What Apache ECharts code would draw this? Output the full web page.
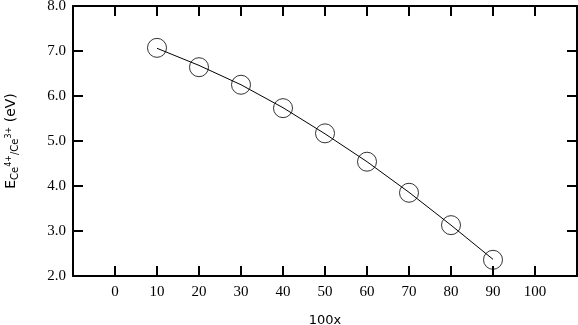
<!DOCTYPE html>
<html>
<head>
<meta charset="utf-8">
<script src="https://cdn.jsdelivr.net/npm/echarts@6/dist/echarts.min.js"></script>
<style>html,body{margin:0;padding:0;background:#fff}#c{width:578px;height:325px}</style>
</head>
<body>
<div id="c"></div>
<script>
var xVals = [10, 20, 30, 40, 50, 60, 70, 80, 90];
var pointVals = [7.07, 6.64, 6.25, 5.73, 5.17, 4.54, 3.85, 3.13, 2.36];
var fitVals = [7.06, 6.68, 6.25, 5.74, 5.16, 4.54, 3.86, 3.13, 2.37];
var xTicks = [0, 10, 20, 30, 40, 50, 60, 70, 80, 90, 100];
var yTicks = [2.0, 3.0, 4.0, 5.0, 6.0, 7.0, 8.0];

var chart = echarts.init(document.getElementById('c'), null, {renderer: 'canvas'});
var serif = 'Liberation Serif';
var axisLine = {show: true, onZero: false, lineStyle: {color: '#000', width: 2}};
var axisTick = {show: true, inside: true, length: 10, lineStyle: {color: '#000', width: 2}};

function pairs(vals) { return xVals.map(function (x, i) { return [x, vals[i]]; }); }

chart.setOption({
  animation: false,
  backgroundColor: '#fff',
  grid: {left: 73, right: 1, top: 6, bottom: 49, containLabel: false, outerBoundsMode: 'none'},
  xAxis: [{
    type: 'value', min: -10, max: 110, interval: 10, position: 'bottom',
    axisLine: axisLine, axisTick: axisTick, splitLine: {show: false},
    axisLabel: {
      margin: 9, color: '#000', fontFamily: serif, fontSize: 15,
      formatter: function (v) { return xTicks.indexOf(v) >= 0 ? String(v) : ''; }
    },
    name: '100x', nameLocation: 'middle', nameGap: 38,
    nameTextStyle: {color: '#000', fontFamily: 'DejaVu Sans', fontSize: 13}
  }, {
    type: 'value', min: -10, max: 110, interval: 10, position: 'top',
    axisLine: axisLine, axisTick: axisTick, axisLabel: {show: false}, splitLine: {show: false}
  }],
  yAxis: [{
    type: 'value', min: 2, max: 8, interval: 1, position: 'left',
    axisLine: axisLine, axisTick: axisTick, splitLine: {show: false},
    axisLabel: {
      margin: 7, color: '#000', fontFamily: serif, fontSize: 15,
      formatter: function (v) { return yTicks.indexOf(v) >= 0 ? v.toFixed(1) : ''; }
    },
    name: '{e|E}{s|Ce}{p|4+}{s|/Ce}{p|3+}{e| (eV)}',
    nameLocation: 'middle', nameGap: 53, nameRotate: 90,
    nameTextStyle: {
      color: '#000', fontFamily: 'DejaVu Sans', fontSize: 14,
      rich: {
        e: {fontFamily: 'DejaVu Sans', fontSize: 14, color: '#000'},
        s: {fontFamily: 'DejaVu Sans', fontSize: 10, color: '#000', padding: [8, 0, 0, 0]},
        p: {fontFamily: 'DejaVu Sans', fontSize: 8, color: '#000', padding: [0, 0, 4, 0]}
      }
    }
  }, {
    type: 'value', min: 2, max: 8, interval: 1, position: 'right',
    axisLine: axisLine, axisTick: axisTick, axisLabel: {show: false}, splitLine: {show: false}
  }],
  series: [{
    type: 'line', data: pairs(fitVals), showSymbol: false, symbol: 'none',
    lineStyle: {color: '#000', width: 1}, z: 2
  }, {
    type: 'scatter', data: pairs(pointVals), symbol: 'circle', symbolSize: 19,
    itemStyle: {color: 'rgba(0,0,0,0)', borderColor: '#000', borderWidth: 1}, z: 3
  }]
});
</script>
</body>
</html>
